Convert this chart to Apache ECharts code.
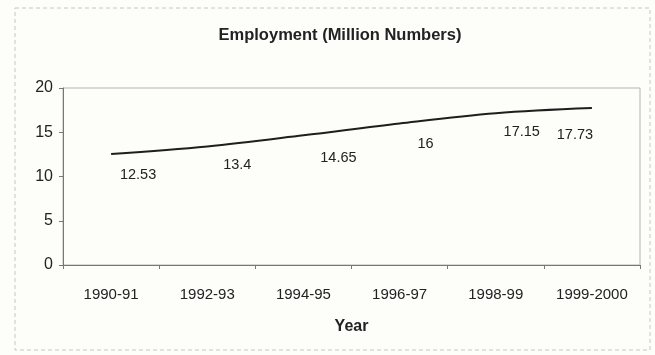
<!DOCTYPE html>
<html>
<head>
<meta charset="utf-8">
<script src="https://cdn.jsdelivr.net/npm/echarts@6/dist/echarts.min.js"></script>
<style>
html,body{margin:0;padding:0;background:#fdfdfa;}
#c{width:655px;height:355px;}
</style>
</head>
<body>
<div id="c"></div>
<script>
var titleText = 'Employment (Million Numbers)';
var xAxisName = 'Year';
var categories = ['1990-91', '1992-93', '1994-95', '1996-97', '1998-99', '1999-2000'];
var employment = [12.53, 13.4, 14.65, 16, 17.15, 17.73];
var yTicks = [0, 5, 10, 15, 20];
// label placement offsets (layout only)
var labelOffsets = [[27, 7], [30, 5], [35, 9], [26, 7], [26, 5], [-17, 13]];

var FONT = '"Liberation Sans Narrow", "Arial Narrow", "Liberation Sans", Arial, sans-serif';
var chart = echarts.init(document.getElementById('c'), null, {renderer: 'canvas'});

var seriesData = employment.map(function (v, i) {
  return {
    value: v,
    label: {offset: labelOffsets[i]}
  };
});

chart.setOption({
  backgroundColor: '#fdfdfa',
  animation: false,
  title: {
    text: titleText,
    left: 335,
    top: 22,
    textAlign: 'center',
    textStyle: {fontFamily: FONT, fontSize: 16.5, fontWeight: 'bold', color: '#222'}
  },
  graphic: [{
    type: 'rect',
    shape: {x: 15, y: 8, width: 635, height: 342},
    style: {fill: 'none', stroke: '#c8c8c0', lineWidth: 1, lineDash: [4, 3]},
    silent: true
  }],
  grid: {
    left: 63, right: 15, top: 88, bottom: 90,
    show: true,
    borderColor: '#b5b5ad',
    borderWidth: 1,
    backgroundColor: 'transparent'
  },
  xAxis: {
    type: 'category',
    data: categories,
    boundaryGap: true,
    name: xAxisName,
    nameLocation: 'middle',
    nameGap: 54,
    nameTextStyle: {fontFamily: FONT, fontSize: 16, fontWeight: 'bold', color: '#222'},
    axisLine: {show: true, lineStyle: {color: '#777', width: 1}},
    axisTick: {show: true, length: 4, lineStyle: {color: '#777'}},
    axisLabel: {fontFamily: FONT, fontSize: 15, color: '#222', margin: 22, interval: 0},
    splitLine: {show: false}
  },
  yAxis: {
    type: 'value',
    min: yTicks[0],
    max: yTicks[yTicks.length - 1],
    interval: yTicks[1] - yTicks[0],
    axisLine: {show: true, lineStyle: {color: '#777', width: 1}},
    axisTick: {show: true, length: 4, lineStyle: {color: '#777'}},
    axisLabel: {fontFamily: FONT, fontSize: 16, color: '#222', margin: 10},
    splitLine: {show: false}
  },
  series: [{
    type: 'line',
    data: seriesData,
    smooth: 0.35,
    showSymbol: true,
    symbol: 'circle',
    symbolSize: 0,
    itemStyle: {color: 'transparent', borderWidth: 0},
    lineStyle: {color: '#1e1e1e', width: 2},
    label: {
      show: true,
      position: 'bottom',
      distance: 6,
      fontFamily: FONT,
      fontSize: 14.5,
      color: '#222'
    }
  }]
});
</script>
</body>
</html>
